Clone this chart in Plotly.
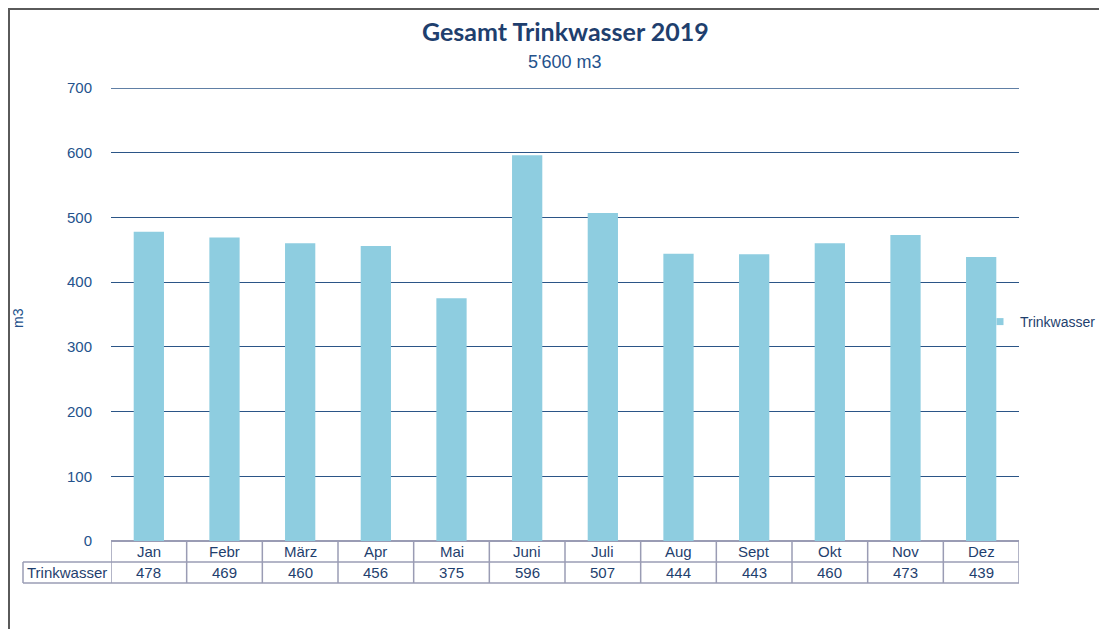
import plotly.graph_objects as go

months = ["Jan", "Febr", "März", "Apr", "Mai", "Juni", "Juli", "Aug", "Sept", "Okt", "Nov", "Dez"]
values = [478, 469, 460, 456, 375, 596, 507, 444, 443, 460, 473, 439]
series_name = "Trinkwasser"
title_text = "Gesamt Trinkwasser 2019"
subtitle_text = "5'600 m3"
y_ticks = [0, 100, 200, 300, 400, 500, 600, 700]

# page body has an 8px default margin; layout below is expressed in screen pixels
OFF = 8
W, H = 1107 - OFF, 629 - OFF
PL, PR, PT, PB = 111, 1019, 88, 541          # plot area in screen pixels
L, T = PL - OFF, PT - OFF
PW, PH = PR - PL, PB - PT
R = W - L - PW
B = H - T - PH

def px_x(p):  # screen pixel -> paper x
    return (p - PL) / PW

def px_y(p):  # screen pixel -> paper y
    return (PB - p) / PH

NAVY = "#1F3F6E"
TXT = "#24528C"
GRID = "#2B5587"
TBL = "#9A9CB4"
BAR = "#8ECDE0"
FONT = "Liberation Sans, Arial"

x_idx = list(range(len(months)))

fig = go.Figure()
fig.add_trace(go.Bar(
    x=x_idx, y=values, name=series_name,
    marker=dict(color=BAR, line=dict(width=0)),
    width=0.4, showlegend=False,
))
# legend entry with a small square key like the original
fig.add_trace(go.Scatter(
    x=[None], y=[None], mode="markers", name=series_name,
    marker=dict(symbol="square", size=7, color=BAR), showlegend=True,
))

shapes = []
# outer chart border (left and top)
shapes.append(dict(type="line", xref="paper", yref="paper", x0=px_x(9), x1=px_x(9),
                   y0=px_y(8), y1=px_y(640), line=dict(color="#5A5A5A", width=2)))
shapes.append(dict(type="line", xref="paper", yref="paper", x0=px_x(8), x1=px_x(1120),
                   y0=px_y(9), y1=px_y(9), line=dict(color="#5A5A5A", width=2)))

# data table lines
y_mid = px_y(562)
y_bot = px_y(583)
x_left = px_x(23)
for yy in (y_mid, y_bot):
    shapes.append(dict(type="line", xref="paper", yref="paper", x0=x_left, x1=1, y0=yy, y1=yy,
                       line=dict(color=TBL, width=1.5)))
shapes.append(dict(type="line", xref="paper", yref="paper", x0=x_left, x1=x_left, y0=y_mid, y1=y_bot,
                   line=dict(color=TBL, width=1.5)))
for i in range(len(months) + 1):
    shapes.append(dict(type="line", xref="x", yref="paper", x0=i - 0.5, x1=i - 0.5,
                       y0=0, y1=y_bot, line=dict(color=TBL, width=1.5)))
# top gridline at 700
shapes.append(dict(type="line", xref="paper", yref="y", x0=0, x1=1, y0=y_ticks[-1], y1=y_ticks[-1],
                   line=dict(color=GRID, width=1.3), layer="below"))

annotations = []
for i, (m, v) in enumerate(zip(months, values)):
    annotations.append(dict(x=i, y=px_y(551.5), xref="x", yref="paper", text=m, showarrow=False,
                            font=dict(family=FONT, size=15, color=NAVY),
                            xanchor="center", yanchor="middle"))
    annotations.append(dict(x=i, y=px_y(572.5), xref="x", yref="paper", text=str(v), showarrow=False,
                            font=dict(family=FONT, size=15, color=NAVY),
                            xanchor="center", yanchor="middle"))
annotations.append(dict(x=px_x(67), y=px_y(572.5), xref="paper", yref="paper", text=series_name,
                        showarrow=False, font=dict(family=FONT, size=15, color=NAVY),
                        xanchor="center", yanchor="middle"))
# titles
annotations.append(dict(x=0.5, y=px_y(31), xref="paper", yref="paper", text="<b>" + title_text + "</b>",
                        showarrow=False, font=dict(family="Lato, Open Sans", size=25, color=NAVY),
                        xanchor="center", yanchor="middle"))
annotations.append(dict(x=0.5, y=px_y(61.5), xref="paper", yref="paper", text=subtitle_text,
                        showarrow=False, font=dict(family=FONT, size=18, color=TXT),
                        xanchor="center", yanchor="middle"))
annotations.append(dict(x=px_x(18), y=px_y(318), xref="paper", yref="paper", text="m3", textangle=-90,
                        showarrow=False, font=dict(family=FONT, size=14, color=TXT),
                        xanchor="center", yanchor="middle"))

fig.update_layout(
    width=W, height=H,
    margin=dict(l=L, r=R, t=T, b=B, autoexpand=False),
    paper_bgcolor="white", plot_bgcolor="white",
    bargap=0.6,
    showlegend=True,
    legend=dict(x=px_x(980), y=px_y(322), xanchor="left", yanchor="middle",
                font=dict(family=FONT, size=14, color=NAVY),
                bgcolor="rgba(0,0,0,0)", borderwidth=0),
    xaxis=dict(range=[-0.5, len(months) - 0.5], showticklabels=False, showgrid=False,
               zeroline=False, showline=False, ticks=""),
    yaxis=dict(range=[0, 700], tickvals=y_ticks, showgrid=True, gridcolor=GRID, gridwidth=1.3,
               zeroline=True, zerolinecolor=TBL, zerolinewidth=1.5, showline=False, ticks="",
               ticklabelstandoff=18,
               tickfont=dict(family=FONT, size=15, color=TXT)),
    shapes=shapes,
    annotations=annotations,
)

fig.write_html("out.html")
